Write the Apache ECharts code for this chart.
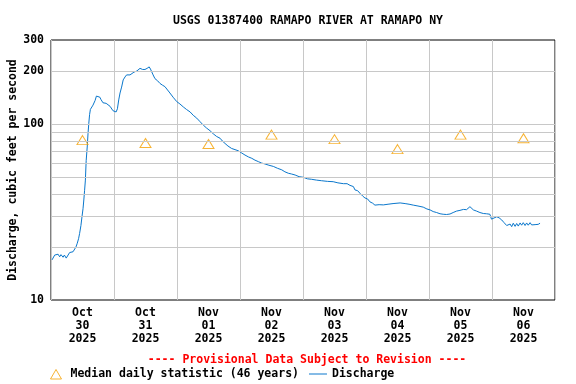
<!DOCTYPE html>
<html>
<head>
<meta charset="utf-8">
<script src="https://cdn.jsdelivr.net/npm/echarts@6/dist/echarts.min.js"></script>
<style>html,body{margin:0;padding:0;background:#fff;}#c{width:576px;height:384px;}</style>
</head>
<body>
<div id="c"></div>
<script>
// x values are hours since 2025-10-30 00:00
const dayLabels = ['Oct\n30\n2025','Oct\n31\n2025','Nov\n01\n2025','Nov\n02\n2025','Nov\n03\n2025','Nov\n04\n2025','Nov\n05\n2025','Nov\n06\n2025'];
const medianHours = [12, 36, 60, 84, 108, 132, 156, 180];
const medianValues = [81, 78, 77, 87, 82, 72, 87, 83];
const dischargeHours = [0.4,1.4,2.7,3.3,3.8,4.6,5.1,5.8,6.5,7.1,7.6,8.4,9.0,9.5,10.0,10.5,10.9,11.4,11.8,12.2,12.5,12.8,13.1,13.4,13.8,14.1,14.4,14.7,15.0,16.0,16.8,17.3,17.9,18.6,19.0,19.8,21.0,21.7,22.5,23.0,23.6,24.3,24.8,25.3,25.8,26.3,26.9,27.5,28.2,28.8,29.4,30.1,30.7,31.6,32.7,33.9,34.9,35.8,36.6,37.4,37.9,38.4,38.9,39.6,40.6,41.5,42.5,43.4,44.4,45.3,46.5,47.9,49.1,50.4,51.6,53.0,54.2,55.5,56.8,58.0,59.2,60.6,61.8,63.1,64.4,65.3,66.3,67.4,68.8,70.1,71.4,72.6,73.9,75.2,76.5,77.7,79.0,80.2,81.5,83.0,84.7,86.3,87.9,89.1,90.4,91.6,93.0,94.5,96.1,97.7,99.3,101.1,103.1,105.3,107.5,109.3,111.4,112.8,113.9,115.2,115.8,116.8,117.7,118.7,119.6,120.6,121.5,122.5,123.4,125.0,126.6,128.4,130.3,133.0,134.9,136.4,138.0,139.8,141.8,143.2,144.4,145.6,146.9,148.2,149.4,150.7,152.0,153.2,154.5,155.8,157.1,158.3,159.6,160.2,160.9,162.1,163.4,164.7,165.9,167.2,167.8,168.5,169.8,170.7,171.7,172.6,173.6,174.2,174.9,175.5,176.1,176.8,177.4,178.0,178.7,179.3,179.9,180.6,181.2,181.8,182.5,183.1,183.7,184.4,185.0,185.6,186.3];
const dischargeValues = [16.9,18.0,18.2,17.6,18.1,17.5,18.0,17.3,17.6,18.6,18.3,18.8,19.1,20.0,21.0,22.3,23.9,26.5,29.7,33,37,42,48,62,74,88,101,113,121,128,136,144,145,142,138,132,131,130,126,123,119,117,117,122,137,150,162,178,185,190,186,190,194,197,200,207,204,204,207,211,205,200,190,181,176,170,166,163,156,150,142,134,130,125,121,117,112,108,103,98.6,95,91.5,88,84.9,83,80,77.5,75,72.6,71.5,70.4,68.5,66.6,65,63.8,62.3,61.1,60,59.3,58.3,57.4,56,54.9,53.5,52.5,52,51.3,50.2,49.8,48.8,48.5,48,47.6,47.2,47.0,46.3,45.8,45.8,44.8,44.1,42.2,41.8,40.4,39,38,37.5,36.1,35.5,34.6,34.8,34.7,35,35.3,35.6,35.3,35.0,34.6,34.2,33.7,32.9,32.5,31.8,31.4,30.9,30.7,30.6,30.8,31.4,32.0,32.3,32.7,32.6,33.9,33.5,32.5,32.0,31.4,31.0,30.9,30.7,28.8,28.5,29.7,29.3,28.5,27.5,26.5,26.0,27.0,26.1,27.3,26.2,27.2,26.3,27.4,26.6,27.5,26.5,27.4,26.6,27.5,26.7,27.4,26.8,27.5,26.9,27.3];
const yGridValues = [20,30,40,50,60,70,80,90,100,200];
const yTickLabels = [10,100,200,300];
const yMin = 10, yMax = 300;

const FONT = "'DejaVu Sans Mono', monospace";
const markValues = Array.from(new Set(yGridValues.concat(yTickLabels))).sort((a,b)=>a-b);
const markData = markValues.map(v => ({
  // keep edge labels just inside the axis extent so the marker is not filtered out
  yAxis: v === yMin ? v * 1.0005 : (v === yMax ? v * 0.9995 : v),
  lineStyle: yGridValues.includes(v) ? {color:'#c8c8c8', width:1, type:'solid'} : {color:'rgba(0,0,0,0)', width:1},
  label: {show: yTickLabels.includes(v), formatter: String(v), position:'start', distance:7,
          color:'#000', fontFamily:FONT, fontWeight:'bold', fontSize:11.5}
}));

const chart = echarts.init(document.getElementById('c'), null, {renderer:'canvas'});
chart.setOption({
  animation:false,
  backgroundColor:'#fff',
  title:[
    {text:'USGS 01387400 RAMAPO RIVER AT RAMAPO NY', left:303, textAlign:'center', top:10,
     textStyle:{fontFamily:FONT, fontWeight:'bold', fontSize:11.5, color:'#000'}},
    {text:'---- Provisional Data Subject to Revision ----', left:302, textAlign:'center', top:349,
     textStyle:{fontFamily:FONT, fontWeight:'bold', fontSize:11.5, color:'#ff0000'}}
  ],
  legend:{
    left:42, top:363, itemWidth:18, itemHeight:10, itemGap:10,
    data:[
      {name:'Median daily statistic (46 years)', icon:'path://M0,10 L0,10 M3,10 L8.5,0.5 L14,10 Z M18,0 L18,0',
       itemStyle:{color:'rgba(0,0,0,0)', borderColor:'#f5a000', borderWidth:1}},
      {name:'Discharge', icon:'path://M0,4.5 L18,4.5 L18,5.5 L0,5.5 Z',
       itemStyle:{color:'#0a77cc', borderWidth:0}}
    ],
    textStyle:{fontFamily:FONT, fontWeight:'bold', fontSize:11.5, color:'#000'}
  },
  grid:{left:51, top:40, width:504, height:260, show:true, borderColor:'#000', borderWidth:1,
        backgroundColor:'#fff', containLabel:false, outerBoundsMode:'none'},
  xAxis:[
    {type:'value', min:0, max:192, interval:24, axisLine:{show:false}, axisTick:{show:false},
     axisLabel:{show:false}, splitLine:{show:true, lineStyle:{color:'#c8c8c8', width:1}}},
    {type:'value', min:0, max:192, interval:12, position:'bottom', axisLine:{show:false}, axisTick:{show:false},
     splitLine:{show:false},
     axisLabel:{show:true, margin:7, lineHeight:13, fontFamily:FONT, fontWeight:'bold', fontSize:11.5, color:'#000',
       formatter: v => (v % 24 === 12) ? dayLabels[(v-12)/24] : ''}}
  ],
  yAxis:{type:'log', logBase:10, min:yMin, max:yMax,
    name:'Discharge, cubic feet per second', nameLocation:'middle', nameGap:32,
    nameTextStyle:{fontFamily:FONT, fontWeight:'bold', fontSize:11.5, color:'#000'},
    axisLine:{show:false}, axisTick:{show:false}, axisLabel:{show:false}, splitLine:{show:false}},
  series:[
    {name:'grid', type:'line', data:[[0,10]], symbol:'none', lineStyle:{opacity:0}, z:1, silent:true,
     markLine:{silent:true, symbol:['none','none'], data:markData, animation:false}},
    {name:'Median daily statistic (46 years)', type:'scatter', symbol:'triangle', symbolSize:[11,9],
     itemStyle:{color:'rgba(0,0,0,0)', borderColor:'#f5a000', borderWidth:1},
     data: medianHours.map((h,i)=>[h, medianValues[i]]), z:4},
    {name:'Discharge', type:'line', showSymbol:false, symbol:'none',
     lineStyle:{color:'#0a77cc', width:1}, itemStyle:{color:'#0a77cc'},
     data: dischargeHours.map((h,i)=>[h, dischargeValues[i]]), z:3}
  ]
});
</script>
</body>
</html>
